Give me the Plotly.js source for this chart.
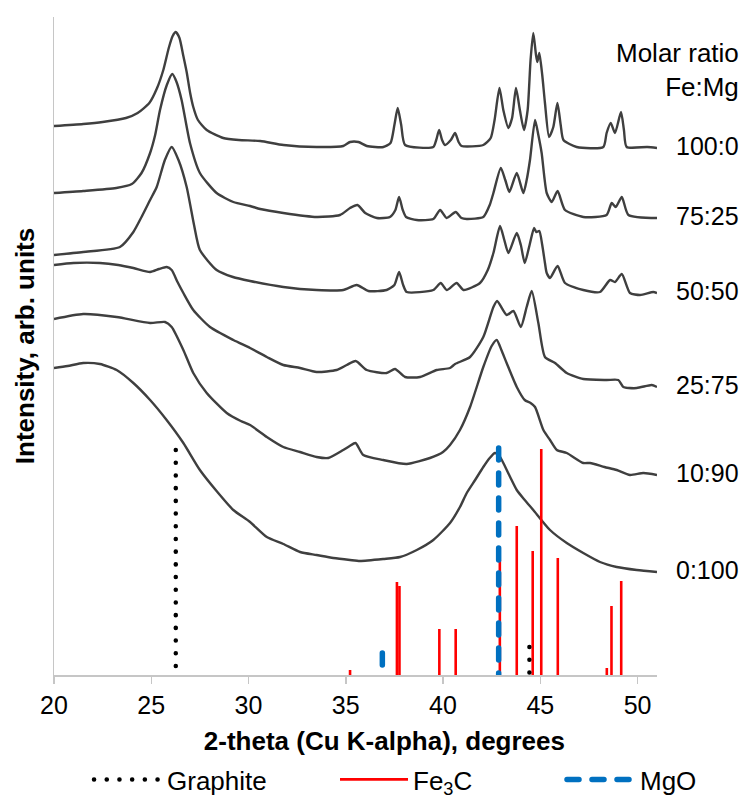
<!DOCTYPE html>
<html>
<head>
<meta charset="utf-8">
<script src="https://cdn.plot.ly/plotly-3.0.1.min.js"></script>
<style>
  html, body { margin: 0; padding: 0; background: #ffffff; }
  #chart { width: 743px; height: 803px; }
</style>
</head>
<body>
<div id="chart"></div>
<script>
// ---------- XRD patterns (2-theta in degrees, intensity in arb. units, offset-stacked) ----------
const x100_0 = [20.0,21.5,22.5,23.7,24.3,24.9,25.3,25.62,25.9,26.1,26.26,26.45,26.65,26.82,27.0,27.16,27.4,27.85,28.7,29.5,30.6,31.8,33.5,34.87,35.22,35.65,36.08,36.93,37.3,37.5,37.67,37.85,38.05,39.5,39.65,39.8,39.95,40.1,40.4,40.62,40.8,40.95,42.07,42.45,42.65,42.9,43.1,43.36,43.55,43.75,43.95,44.16,44.35,44.5,44.64,44.78,44.85,44.95,45.1,45.24,45.45,45.67,45.88,46.05,46.19,46.87,48.24,48.41,48.62,48.84,49.15,49.3,49.44,50.5,51];
const y100_0 = [549,551,553,557,562,572,587,605,627,639,643,637,619,603,582,568,555,545,537,535,534,530,528,529,533,533,529,528,532,550,567,550,530,528,535,545,535,530,535,542,533,529,530,537,555,587,565,547,557,587,565,545,565,615,642,620,613,622,600,572,538,548,572,550,535,528,528,542,552,542,563,545,528,528,527];

const x75_25 = [20.0,21.5,23.2,24.0,24.5,24.94,25.2,25.45,25.8,26.08,26.3,26.56,26.99,27.5,28.36,29.22,30.08,30.6,31.79,33.5,34.7,35.22,35.6,36.0,36.6,37.27,37.55,37.74,37.93,38.1,38.65,39.5,39.85,40.19,40.65,40.95,41.22,42.07,42.4,42.59,42.97,43.2,43.41,43.79,44.13,44.3,44.47,44.73,44.9,45.07,45.33,45.59,45.89,46.27,47.21,48.41,48.67,48.88,49.19,49.53,51];
const y75_25 = [482,484,487,491,502,522,540,565,590,601,593,575,532,502,482,473,469,466,462,458,460,467,470,462,457,458,465,478,465,458,455,456,465,457,463,457,456,458,470,482,507,495,483,502,482,495,515,555,540,522,482,473,484,465,458,460,472,468,478,460,457];

const x50_50 = [20.0,21.5,23.39,24.08,24.5,24.94,25.28,25.7,26.05,26.4,26.82,27.2,27.5,28.36,29.2,30.08,31.79,33.5,34.87,35.56,36.16,37.1,37.5,37.74,37.95,38.13,39.5,39.88,40.19,40.7,41.05,41.9,42.3,42.59,42.93,43.15,43.36,43.79,44.0,44.2,44.45,44.68,44.8,44.95,45.1,45.24,45.33,45.5,45.89,46.27,47.21,48.07,48.59,48.84,49.19,49.61,50.13,50.81,51];
const y50_50 = [420,423,428,443,458,475,488,515,528,515,488,450,425,405,398,394,388,385,385,390,384,385,390,403,390,383,385,392,385,392,385,392,405,422,449,435,422,442,430,412,430,447,443,444,430,412,402,397,409,392,385,383,395,393,401,382,380,383,382];

const x25_75 = [20.0,21.0,22.36,23.3,24.08,24.94,25.4,25.79,26.05,26.35,26.65,27.16,28.02,29.22,30.08,30.94,31.79,32.65,33.5,34.53,35.05,35.51,36.08,37.1,37.53,38.05,38.82,39.68,40.36,40.62,41.39,42.07,42.59,42.78,43.27,43.62,44.0,44.3,44.56,44.9,45.24,45.76,46.36,47.21,48.41,49.01,49.27,49.96,50.73,51];
const y25_75 = [410,412,412,410,407,403,406,408,405,393,382,365,348,335,327,318,310,307,303,305,310,314,305,302,306,298,298,305,307,311,318,338,368,374,360,364,348,368,384,352,318,312,302,296,295,295,288,287,290,288];

const x10_90 = [20.0,21.5,23.22,24.94,25.71,26.05,26.65,27.16,27.85,28.88,29.6,30.08,30.94,31.79,32.65,33.5,34.1,34.87,35.2,35.5,35.9,36.93,38.13,39.33,40.0,40.36,40.87,41.39,42.07,42.5,42.76,43.0,43.27,43.79,44.2,44.5,44.73,45.16,45.5,45.85,46.36,47.21,47.56,48.3,48.93,49.61,50.3,51];
const y10_90 = [356,361,358,352,353,348,325,302,282,262,254,250,238,228,223,218,217,225,229,232,220,215,211,217,223,230,245,268,308,329,335,325,312,288,275,272,268,245,235,225,222,212,212,208,205,200,202,200];

const x0_100 = [20.0,20.7,21.5,22.36,23.22,24.08,24.94,25.79,26.65,27.5,28.4,29.22,30.08,30.94,31.79,32.65,33.5,34.36,35.22,35.73,36.93,37.79,38.65,39.5,40.36,40.87,41.22,41.65,42.07,42.4,42.67,42.9,43.1,43.45,43.79,44.2,44.64,45.5,46.36,47.21,48.07,48.93,49.96,51];
const y0_100 = [307,309,312,311,305,292,275,255,232,205,183,165,153,138,131,123,120,117,115,114,116,118,125,135,152,168,182,195,208,217,222,219,212,198,185,175,165,145,132,122,113,108,105,103];

const ratioLabels = ['100:0', '75:25', '50:50', '25:75', '10:90', '0:100'];

// ---------- reference stick patterns ----------
const graphitePos = [26.26, 44.44];
const graphiteInt = [225, 28];
const fe3cPos = [35.22, 37.63, 37.76, 39.81, 40.65, 42.92, 43.79, 44.61, 45.05, 45.9, 48.42, 48.66, 49.16];
const fe3cInt = [5, 93, 89, 46, 46, 115, 149, 124, 226, 117, 7, 69, 94];
const mgoPos = [36.88, 42.86];
const mgoInt = [22, 227];

const phaseNames = ['Graphite', 'Fe<sub>3</sub>C', 'MgO'];
const axisTitleX = '2-theta (Cu K-alpha), degrees';
const axisTitleY = 'Intensity, arb. units';
const headerText = 'Molar ratio<br>Fe:Mg';

// ---------- build ----------
const FONT = 'Liberation Sans, Arial, sans-serif';
const CURVE = '#3f3f3f';
const AXIS = '#c6c6c6';

const series = [
  [x100_0, y100_0], [x75_25, y75_25], [x50_50, y50_50],
  [x25_75, y25_75], [x10_90, y10_90], [x0_100, y0_100]
];

const data = series.map(([xs, ys], i) => ({
  x: xs, y: ys, type: 'scatter', mode: 'lines', name: ratioLabels[i],
  line: { color: CURVE, width: 2.4, shape: 'spline', smoothing: 0.6 },
  showlegend: false, hoverinfo: 'skip'
}));

function sticks(pos, inten) {
  const xs = [], ys = [];
  pos.forEach((p, i) => { xs.push(p, p, null); ys.push(inten[i], 0, null); });
  return { x: xs, y: ys };
}

const g = sticks(graphitePos, graphiteInt);
const f = sticks(fe3cPos, fe3cInt);
const m = sticks(mgoPos, mgoInt);

data.push({
  x: f.x, y: f.y, type: 'scatter', mode: 'lines', name: phaseNames[1],
  line: { color: '#ff0000', width: 2.6 }, legend: 'legend2', hoverinfo: 'skip'
});
data.push({
  x: g.x, y: g.y, type: 'scatter', mode: 'lines', name: phaseNames[0],
  line: { color: '#000000', width: 4.5, dash: '0.1px,12.6px' }, legend: 'legend', hoverinfo: 'skip'
});
data.push({
  x: m.x, y: m.y, type: 'scatter', mode: 'lines', name: phaseNames[2],
  line: { color: '#0070c0', width: 5.5, dash: '12px,13px' }, legend: 'legend3', hoverinfo: 'skip'
});

const annotations = series.map(([xs, ys], i) => ({
  x: 1, xref: 'paper', xanchor: 'left', xshift: 17,
  y: ys[ys.length - 1] + 2, yref: 'y', yanchor: 'middle',
  text: ratioLabels[i], showarrow: false,
  font: { family: FONT, size: 25, color: '#000000' }
}));
annotations.push({
  x: 1, xref: 'paper', xanchor: 'right', xshift: 84, align: 'right',
  y: 605, yref: 'y', yanchor: 'middle',
  text: headerText, showarrow: false,
  font: { family: FONT, size: 26, color: '#000000' }
});

const legendBase = {
  orientation: 'h', yanchor: 'bottom', xanchor: 'left',
  xref: 'container', yref: 'container', y: 0,
  itemwidth: 68, bgcolor: 'rgba(0,0,0,0)', borderwidth: 0,
  font: { family: FONT, size: 26, color: '#000000' }
};

const layout = {
  width: 743, height: 803,
  margin: { l: 54, r: 86, t: 17, b: 128, autoexpand: false },
  paper_bgcolor: '#ffffff', plot_bgcolor: '#ffffff',
  font: { family: FONT, size: 25, color: '#000000' },
  xaxis: {
    range: [20, 51], tick0: 20, dtick: 5, showgrid: false, zeroline: false,
    showline: true, linecolor: AXIS, linewidth: 1.5,
    ticks: 'outside', ticklen: 7, tickwidth: 1.5, tickcolor: AXIS,
    tickfont: { family: FONT, size: 25, color: '#000000' },
    title: { text: '&nbsp;&nbsp;&nbsp;&nbsp;&nbsp;&nbsp;&nbsp;&nbsp;<b>' + axisTitleX + '</b>', font: { family: FONT, size: 26, color: '#000000' }, standoff: 16 },
    automargin: false, fixedrange: true
  },
  yaxis: {
    range: [0, 658], showgrid: false, zeroline: false, showticklabels: false, ticks: '',
    showline: true, linecolor: AXIS, linewidth: 1.5,
    title: { text: '<b>' + axisTitleY + '</b>', font: { family: FONT, size: 26, color: '#000000' }, standoff: 10 },
    automargin: false, fixedrange: true
  },
  legend: Object.assign({}, legendBase, { x: 89 / 743 }),
  legend2: Object.assign({}, legendBase, { x: 335 / 743 }),
  legend3: Object.assign({}, legendBase, { x: 562 / 743 }),
  annotations: annotations,
  showlegend: true
};

Plotly.newPlot('chart', data, layout, { staticPlot: true, displayModeBar: false }).then(() => {
  document.querySelectorAll('#chart path').forEach(p => {
    const da = p.style.strokeDasharray;
    if (da && da !== 'none') p.style.strokeLinecap = 'round';
  });
});
</script>
</body>
</html>
